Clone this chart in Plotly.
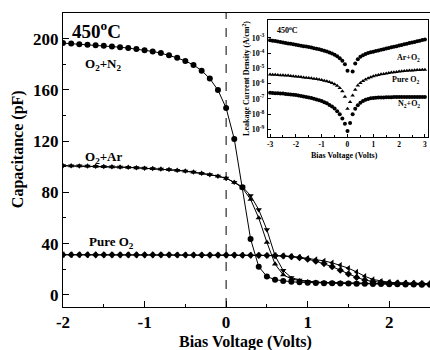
import plotly.graph_objects as go

# ---------------- main C-V data ----------------
bias = [round(-2.0 + 0.1 * i, 1) for i in range(46)]

cap_o2_n2 = [196.5, 196.1, 195.7, 195.3, 194.9, 194.4, 193.9, 193.3, 192.6, 191.9,
             191.0, 190.0, 188.7, 187.0, 185.0, 182.5, 179.5, 175.0, 168.8, 159.8,
             145.8, 121.6, 84.0, 43.6, 22.0, 14.3, 11.8, 10.8, 10.2, 9.8,
             9.5, 9.3, 9.1, 9.0, 8.9, 8.8, 8.7, 8.6, 8.5, 8.4,
             8.3, 8.2, 8.1, 8.0, 7.9, 7.8]

cap_o2_ar_down = [100.8, 100.7, 100.6, 100.5, 100.3, 100.1, 99.9, 99.7, 99.5, 99.2,
                  98.9, 98.6, 98.2, 97.8, 97.2, 96.6, 95.8, 94.9, 93.8, 92.6,
                  91.0, 87.8, 84.3, 77.5, 66.5, 50.8, 30.5, 19.0, 13.5, 11.5,
                  10.5, 10.0, 9.7, 9.5, 9.3, 9.2, 9.1, 9.0, 8.9, 8.8,
                  8.7, 8.6, 8.5, 8.4, 8.3, 8.2]

cap_o2_ar_up = [100.8, 100.7, 100.6, 100.5, 100.3, 100.1, 99.9, 99.7, 99.5, 99.2,
                98.9, 98.6, 98.2, 97.8, 97.2, 96.6, 95.8, 94.9, 93.8, 92.6,
                91.0, 87.8, 83.5, 74.5, 60.0, 41.0, 24.0, 15.6, 12.5, 11.0,
                10.2, 9.8, 9.5, 9.3, 9.2, 9.1, 9.0, 8.9, 8.8, 8.7,
                8.6, 8.5, 8.4, 8.3, 8.2, 8.1]

cap_pure_o2_left = [31.3, 31.3, 31.3, 31.3, 31.2, 31.2, 31.2, 31.2, 31.2, 31.2,
                    31.2, 31.2, 31.2, 31.2, 31.1, 31.1, 31.1, 31.1, 31.0, 31.0,
                    31.0, 31.0, 30.9, 30.9, 30.8, 30.8, 30.7, 30.5, 30.0, 29.4,
                    28.6, 27.6, 26.5, 25.0, 23.2, 20.8, 17.8, 14.5, 12.0, 10.6,
                    9.8, 9.4, 9.2, 9.0, 8.9, 8.8]

cap_pure_o2_diamond = [31.3, 31.3, 31.3, 31.3, 31.2, 31.2, 31.2, 31.2, 31.2, 31.2,
                       31.2, 31.2, 31.2, 31.2, 31.1, 31.1, 31.1, 31.1, 31.0, 31.0,
                       31.0, 31.0, 30.9, 30.9, 30.8, 30.7, 30.6, 30.3, 29.8, 29.0,
                       27.8, 26.3, 24.4, 22.0, 19.2, 16.3, 13.6, 11.6, 10.4, 9.8,
                       9.4, 9.2, 9.0, 8.9, 8.8, 8.7]

main_xticks = [-2, -1, 0, 1, 2]
main_yticks = [0, 40, 80, 120, 160, 200]

# ---------------- inset I-V data (log10 of A/cm^2) ----------------
bias_inset = [round(-3.0 + 0.1 * i, 1) for i in range(61)]

log_j_ar_o2 = [-3.15, -3.18, -3.21, -3.24, -3.27, -3.30, -3.33, -3.36, -3.39, -3.42,
               -3.45, -3.48, -3.51, -3.54, -3.57, -3.60, -3.63, -3.67, -3.71, -3.75,
               -3.79, -3.84, -3.89, -3.95, -4.02, -4.10, -4.20, -4.33, -4.50, -4.72,
               -5.15, None, -5.20, -4.68, -4.40, -4.24, -4.13, -4.05, -3.99, -3.94,
               -3.90, -3.86, -3.82, -3.78, -3.74, -3.70, -3.66, -3.62, -3.58, -3.54,
               -3.50, -3.46, -3.42, -3.38, -3.34, -3.30, -3.26, -3.22, -3.18, -3.14,
               -3.10]

log_j_pure_o2 = [-5.40, -5.41, -5.42, -5.43, -5.44, -5.45, -5.46, -5.47, -5.49, -5.51,
                 -5.53, -5.55, -5.57, -5.59, -5.61, -5.63, -5.65, -5.67, -5.70, -5.73,
                 -5.76, -5.80, -5.84, -5.89, -5.95, -6.03, -6.13, -6.28, -6.50, -6.85,
                 -7.65, -7.20, -6.78, -6.40, -6.12, -5.95, -5.83, -5.73, -5.65, -5.58,
                 -5.52, -5.47, -5.43, -5.39, -5.36, -5.33, -5.30, -5.27, -5.25, -5.23,
                 -5.21, -5.19, -5.17, -5.16, -5.14, -5.13, -5.12, -5.11, -5.10, -5.09,
                 -5.08]

log_j_n2_o2 = [-6.60, -6.61, -6.62, -6.63, -6.64, -6.65, -6.67, -6.69, -6.71, -6.73,
               -6.75, -6.78, -6.81, -6.84, -6.87, -6.90, -6.94, -6.98, -7.03, -7.08,
               -7.14, -7.21, -7.29, -7.39, -7.50, -7.63, -7.80, -8.00, -8.28, -8.62,
               -9.10, -8.58, -8.00, -7.65, -7.42, -7.25, -7.13, -7.05, -7.00, -6.96,
               -6.94, -6.92, -6.91, -6.90, -6.90, -6.89, -6.89, -6.89, -6.88, -6.88,
               -6.88, -6.88, -6.88, -6.88, -6.88, -6.88, -6.87, -6.87, -6.87, -6.87,
               -6.87]

inset_xticks = [-3, -2, -1, 0, 1, 2, 3]
inset_ticks = [-9, -8, -7, -6, -5, -4, -3]

# ---------------- figure ----------------
FONT = "Liberation Serif"
fig = go.Figure()

def main_trace(y, symbol, size=5.5):
    fig.add_trace(go.Scatter(
        x=bias, y=y, mode="lines+markers",
        line=dict(color="black", width=1),
        marker=dict(symbol=symbol, size=size, color="black"),
        xaxis="x", yaxis="y", showlegend=False))

main_trace(cap_o2_n2, "circle", 6)
main_trace(cap_o2_ar_down, "triangle-down", 5.5)
main_trace(cap_o2_ar_up, "triangle-up", 5.5)
main_trace(cap_pure_o2_left, "triangle-left", 5.5)
main_trace(cap_pure_o2_diamond, "diamond", 5.5)

def inset_trace(logv, symbol, size=4):
    fig.add_trace(go.Scatter(
        x=bias_inset, y=[None if v is None else 10 ** v for v in logv],
        mode="markers",
        marker=dict(symbol=symbol, size=size, color="black"),
        xaxis="x2", yaxis="y2", showlegend=False))

inset_trace(log_j_ar_o2, "circle", 4)
inset_trace(log_j_pure_o2, "triangle-up", 4)
inset_trace(log_j_n2_o2, "circle", 4)

fig.add_shape(type="line", x0=0, x1=0, y0=0, y1=1, xref="x", yref="y domain",
              line=dict(color="black", width=1, dash="dash"))

axis_common = dict(showgrid=False, zeroline=False, showline=True, linecolor="black",
                   linewidth=1, mirror=True, ticks="inside", tickcolor="black")

fig.update_layout(
    width=430, height=350,
    margin=dict(l=63, r=0, t=13, b=43),
    paper_bgcolor="white", plot_bgcolor="white",
    showlegend=False,
    xaxis=dict(**axis_common, range=[-2, 2.5], tickvals=main_xticks,
               ticktext=[str(v) for v in main_xticks],
               ticklen=6, tickwidth=1,
               minor=dict(ticks="inside", dtick=0.5, tick0=0, ticklen=3, tickcolor="black"),
               tickfont=dict(family=FONT, size=17, color="black", weight="bold")),
    yaxis=dict(**axis_common, range=[-9.5, 220], tickvals=main_yticks,
               ticktext=[str(v) for v in main_yticks],
               ticklen=6, tickwidth=1,
               minor=dict(ticks="inside", dtick=20, tick0=0, ticklen=3, tickcolor="black"),
               tickfont=dict(family=FONT, size=17, color="black", weight="bold")),
    xaxis2=dict(**axis_common, domain=[0.5586, 0.9946], anchor="y2",
                range=[-3.08, 3.12], tickvals=inset_xticks,
                ticktext=[str(v) for v in inset_xticks],
                ticklen=3, ticklabelstandoff=0, ticklabeloverflow="allow",
                minor=dict(ticks="inside", dtick=0.5, tick0=0, ticklen=2, tickcolor="black"),
                tickfont=dict(family=FONT, size=7.5, color="black", weight="bold")),
    yaxis2=dict(**axis_common, domain=[0.578, 0.976], anchor="x2", type="log",
                range=[-9.5, -1.83],
                tickvals=[10 ** k for k in inset_ticks],
                ticktext=["10<sup>%d</sup>" % k for k in inset_ticks],
                ticklen=3, ticklabelstandoff=1,
                tickfont=dict(family=FONT, size=8, color="black", weight="bold")),
)

def ann(text, x, y, size, xref="x", yref="y", xanchor="left", yanchor="middle", angle=0):
    fig.add_annotation(text=text, x=x, y=y, xref=xref, yref=yref, showarrow=False,
                       xanchor=xanchor, yanchor=yanchor, textangle=angle,
                       font=dict(family=FONT, size=size, color="black"))

# main labels
ann("<b>450<sup>o</sup>C</b>", -1.92, 207, 19)
ann("<b>O<sub>2</sub>+N<sub>2</sub></b>", -1.76, 180, 13)
ann("<b>O<sub>2</sub>+Ar</b>", -1.76, 107, 13)
ann("<b>Pure O<sub>2</sub></b>", -1.71, 41, 13)
# axis titles
ann("<b>Bias Voltage (Volts)</b>", 0.4986, -0.118, 16, xref="paper", yref="paper",
    xanchor="center")
ann("<b>Capacitance (pF)</b>", -0.1226, 0.537, 16, xref="paper", yref="paper",
    xanchor="center", angle=-90)
# inset labels
ann("<b>450<sup>o</sup>C</b>", -2.82, -2.48, 8, xref="x2", yref="y2")
ann("<b>Ar+O<sub>2</sub></b>", 2.88, -4.30, 8, xref="x2", yref="y2", xanchor="right")
ann("<b>Pure O<sub>2</sub></b>", 2.88, -5.74, 8, xref="x2", yref="y2", xanchor="right")
ann("<b>N<sub>2</sub>+O<sub>2</sub></b>", 2.88, -7.30, 8, xref="x2", yref="y2", xanchor="right")
ann("<b>Bias Voltage (Volts)</b>", 0.767, 0.516, 8, xref="paper", yref="paper",
    xanchor="center")
ann("<b>Leakage Current Density (A/cm<sup>2</sup>)</b>", 0.4986, 0.779, 8,
    xref="paper", yref="paper", xanchor="center", angle=-90)

# remove the default page margin so the 430x350 figure fills the window exactly
fig.write_html(
    "out.html",
    config={"displayModeBar": False},
    post_script="document.body.style.margin='0';"
                "document.documentElement.style.overflow='hidden';",
)
